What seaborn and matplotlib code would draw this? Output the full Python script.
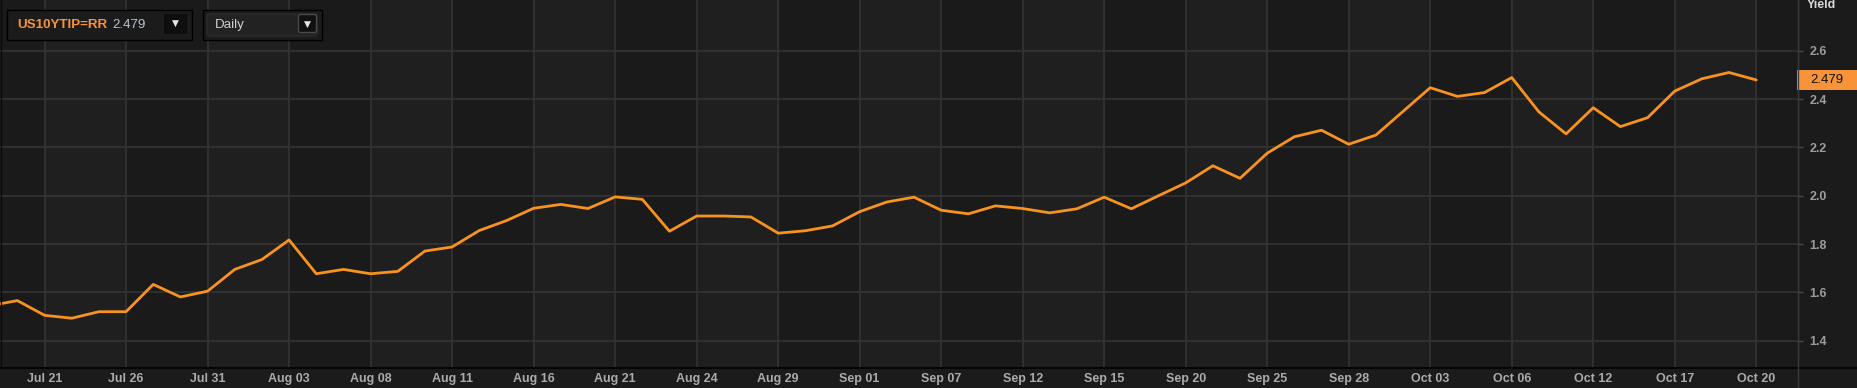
import numpy as np
import pandas as pd
import matplotlib
matplotlib.use("Agg")
import matplotlib.pyplot as plt
import seaborn as sns
from matplotlib.patches import Rectangle, FancyBboxPatch
from matplotlib.transforms import blended_transform_factory

# ---------------- data ----------------
dates = [
    "2023-07-19", "2023-07-20", "2023-07-21", "2023-07-24", "2023-07-25", "2023-07-26",
    "2023-07-27", "2023-07-28", "2023-07-31",
    "2023-08-01", "2023-08-02", "2023-08-03", "2023-08-04", "2023-08-07", "2023-08-08",
    "2023-08-09", "2023-08-10", "2023-08-11", "2023-08-14", "2023-08-15", "2023-08-16",
    "2023-08-17", "2023-08-18", "2023-08-21", "2023-08-22", "2023-08-23", "2023-08-24",
    "2023-08-25", "2023-08-28", "2023-08-29", "2023-08-30", "2023-08-31",
    "2023-09-01", "2023-09-05", "2023-09-06", "2023-09-07", "2023-09-08", "2023-09-11",
    "2023-09-12", "2023-09-13", "2023-09-14", "2023-09-15", "2023-09-18", "2023-09-19",
    "2023-09-20", "2023-09-21", "2023-09-22", "2023-09-25", "2023-09-26", "2023-09-27",
    "2023-09-28", "2023-09-29",
    "2023-10-02", "2023-10-03", "2023-10-04", "2023-10-05", "2023-10-06", "2023-10-10",
    "2023-10-11", "2023-10-12", "2023-10-13", "2023-10-16", "2023-10-17", "2023-10-18",
    "2023-10-19", "2023-10-20",
]
yields = [
    1.545, 1.566, 1.505, 1.493, 1.520, 1.520, 1.633, 1.581, 1.605,
    1.695, 1.736, 1.817, 1.677, 1.695, 1.677, 1.687, 1.771, 1.788, 1.856, 1.897, 1.948,
    1.964, 1.947, 1.995, 1.985, 1.853, 1.916, 1.916, 1.912, 1.845, 1.855, 1.875,
    1.934, 1.974, 1.994, 1.940, 1.925, 1.958, 1.947, 1.929, 1.946, 1.994, 1.946, 2.000,
    2.053, 2.124, 2.072, 2.176, 2.244, 2.271, 2.213, 2.251,
    2.349, 2.447, 2.411, 2.427, 2.489, 2.347, 2.256, 2.364, 2.286, 2.323, 2.433, 2.484,
    2.510, 2.479,
]
tick_labels = ["Jul 21", "Jul 26", "Jul 31", "Aug 03", "Aug 08", "Aug 11", "Aug 16",
               "Aug 21", "Aug 24", "Aug 29", "Sep 01", "Sep 07", "Sep 12", "Sep 15",
               "Sep 20", "Sep 25", "Sep 28", "Oct 03", "Oct 06", "Oct 12", "Oct 17",
               "Oct 20"]
y_ticks = [1.4, 1.6, 1.8, 2.0, 2.2, 2.4, 2.6]
symbol = "US10YTIP=RR"
last_value = 2.479
interval_name = "Daily"
axis_title = "Yield"

# ---------------- style ----------------
W, H = 1857, 388
sns.set_theme(style="dark")
plt.rcParams['font.family'] = ['Liberation Sans', 'DejaVu Sans']

BG = '#1b1b1b'
STRIPE_LIGHT = '#1f1f1f'
STRIPE_DARK = '#1a1a1a'
GRID = '#323232'
ORANGE = '#f7931e'

fig = plt.figure(figsize=(W / 100, H / 100), dpi=100, facecolor=BG)
ax = fig.add_axes([0, 20 / H, 1797 / W, 368 / H])
ax.set_facecolor(STRIPE_LIGHT)

df = pd.DataFrame({'idx': np.arange(len(dates)),
                   'date': pd.to_datetime(dates),
                   'yield': yields})
df['label'] = df['date'].dt.strftime('%b %d')
tick_pos = [int(df.index[df['label'] == t][0]) for t in tick_labels]

x_lo, x_hi = 0.36, 66.5
ax.set_xlim(x_lo, x_hi)
ax.set_ylim(1.287, 2.81)

# alternating vertical bands between date ticks
bounds = [x_lo] + tick_pos + [x_hi]
for k in range(len(bounds) - 1):
    # band before first tick is dark, then alternate light/dark
    if k % 2 == 0:
        ax.axvspan(bounds[k], bounds[k + 1], color=STRIPE_DARK, lw=0, zorder=0.1)

sns.lineplot(data=df, x='idx', y='yield', ax=ax, color=ORANGE, lw=2.0, zorder=5)
ax.set_xlabel('')
ax.set_ylabel('')

ax.set_axisbelow(True)
ax.grid(True, color=GRID, lw=1.3, zorder=0.5)

ax.set_xticks(tick_pos)
ax.set_xticklabels(tick_labels, fontweight='bold')
ax.set_yticks(y_ticks)
ax.set_yticklabels([f"{v:.1f}" for v in y_ticks], fontweight='bold')
ax.yaxis.tick_right()
ax.tick_params(axis='y', length=4, width=1, color='#4a4a4a', pad=5,
               labelsize=9, labelcolor='#9c9c9c', right=True, left=False)
ax.tick_params(axis='x', length=0, pad=3.5, labelsize=9, labelcolor='#ababab')
for s in ax.spines.values():
    s.set_visible(False)

# last value tag on the right axis
tr = blended_transform_factory(ax.transAxes, ax.transData)
tag_w = 60 / 1797
tag_h = 20 / 241.7
ax.add_patch(Rectangle((1.0, last_value - tag_h / 2), tag_w, tag_h, transform=tr,
                       facecolor='#f7943a', edgecolor='none', clip_on=False, zorder=10))
ax.text(1.0 + tag_w / 2, last_value, f"{last_value:.3f}", transform=tr, ha='center',
        va='center', fontsize=9.5, color='#111111', zorder=11, clip_on=False)

# ---------------- overlay in pixel coordinates ----------------
ov = fig.add_axes([0, 0, 1, 1], zorder=20)
ov.set_xlim(0, W)
ov.set_ylim(H, 0)
ov.axis('off')
ov.patch.set_visible(False)

ov.plot([0, W], [368, 368], color='#050505', lw=1.5, solid_capstyle='butt')
ov.plot([1797.5, 1797.5], [0, H], color='#3a3a3a', lw=1.0)
ov.plot([0.5, 0.5], [0, 368], color='#0a0a0a', lw=1.0)

ov.text(1807, 5, axis_title, ha='left', va='center', fontsize=9, fontweight='bold',
        color='#d6d6d6')

# symbol widget
ov.add_patch(Rectangle((7, 10), 185, 30, facecolor=BG, edgecolor='#000000', lw=1.0))
ov.text(17, 25, symbol, ha='left', va='center', fontsize=9.6, fontweight='bold',
        color='#f7943a')
ov.text(112, 25.5, f"{last_value:.3f}", ha='left', va='center', fontsize=9.6,
        color='#b9c2cc')
ov.add_patch(Rectangle((164, 14), 23, 20, facecolor='#0e0e0e', edgecolor='none'))
ov.text(175.5, 23.5, '\u25BC', ha='center', va='center', fontsize=6.5,
        color='#e6e6e6', family=['DejaVu Sans'])

# interval widget
ov.add_patch(Rectangle((203, 10), 119, 30, facecolor=BG, edgecolor='#000000', lw=1.0))
ov.add_patch(FancyBboxPatch((207, 14), 110, 22, boxstyle='round,pad=0,rounding_size=3',
                            facecolor='#222222', edgecolor='#2c2c2c', lw=1.0))
ov.text(215, 25, interval_name, ha='left', va='center', fontsize=9.6, color='#cfcfcf')
ov.add_patch(FancyBboxPatch((298.5, 14.5), 18, 18, boxstyle='round,pad=0,rounding_size=2',
                            facecolor='#101010', edgecolor='#4a4a4a', lw=1.0))
ov.text(307.5, 24, '\u25BC', ha='center', va='center', fontsize=6.5,
        color='#e6e6e6', family=['DejaVu Sans'])

fig.savefig('out.png', dpi=100, facecolor=fig.get_facecolor())
